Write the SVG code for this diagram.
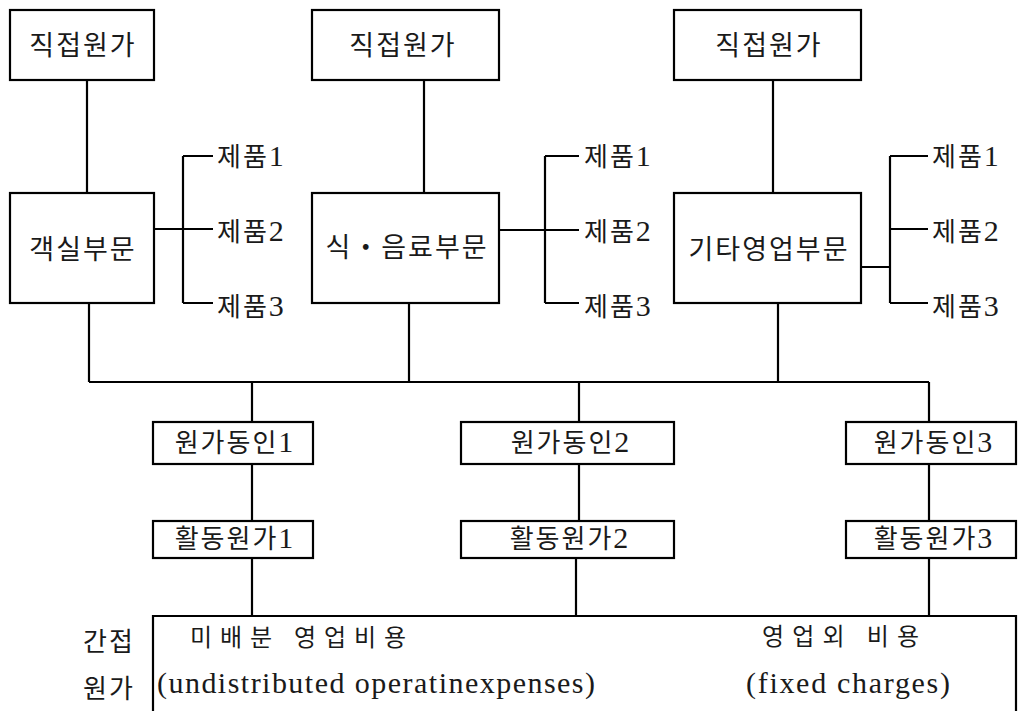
<svg xmlns="http://www.w3.org/2000/svg" width="1018" height="711" viewBox="0 0 1018 711">
<style>
.box{fill:#fff;stroke:#000;stroke-width:2.2}
.ln{fill:none;stroke:#000;stroke-width:2.2}
text{font-family:"Liberation Serif","Noto Sans CJK KR",serif;fill:#1a1a1a}
.lb{font-size:27px;letter-spacing:2px;text-anchor:middle}
.pd{font-size:26px;letter-spacing:2px}
.sm{font-size:26px;letter-spacing:2px;text-anchor:middle}
.d{font-size:30px;letter-spacing:0}
.bt{font-size:24px}
.en{font-size:30px}
</style>
<rect width="1018" height="711" fill="#fff"/>
<g id="connectors">
<path class="ln" d="M87 80V193M424 80V193M773 80V193"/>
<path class="ln" d="M154 229H183M183 156V303M183 156H213M183 229H213M183 303H213"/>
<path class="ln" d="M499 230H545M545 156V303M545 156H579M545 230H579M545 303H579"/>
<path class="ln" d="M861 267H890M890 156V303M890 156H928M890 229H928M890 303H928"/>
<path class="ln" d="M89 303V382M409 303V382M778 303V382M89 382H929"/>
<path class="ln" d="M252 382V422M579 382V422M929 382V422"/>
<path class="ln" d="M252 464V521M579 464V521M929 464V521"/>
<path class="ln" d="M252 558V616M576 558V616M929 558V616"/>
</g>
<g id="direct1"><rect class="box" x="10" y="10" width="144" height="70"/><text class="lb" x="83" y="55">직접원가</text></g>
<g id="direct2"><rect class="box" x="312" y="10" width="187" height="70"/><text class="lb" x="403" y="55">직접원가</text></g>
<g id="direct3"><rect class="box" x="674" y="10" width="187" height="70"/><text class="lb" x="769" y="55">직접원가</text></g>
<g id="dept1"><rect class="box" x="10" y="193" width="144" height="110"/><text class="lb" x="83" y="259">객실부문</text></g>
<g id="dept2"><rect class="box" x="312" y="193" width="187" height="110"/><text class="lb" x="407" y="257">식・음료부문</text></g>
<g id="dept3"><rect class="box" x="674" y="193" width="187" height="110"/><text class="lb" x="769" y="259">기타영업부문</text></g>
<g id="products1"><text class="pd" x="217" y="166">제품<tspan class="d">1</tspan></text><text class="pd" x="217" y="241">제품<tspan class="d">2</tspan></text><text class="pd" x="217" y="316">제품<tspan class="d">3</tspan></text></g>
<g id="products2"><text class="pd" x="584" y="166">제품<tspan class="d">1</tspan></text><text class="pd" x="584" y="241">제품<tspan class="d">2</tspan></text><text class="pd" x="584" y="316">제품<tspan class="d">3</tspan></text></g>
<g id="products3"><text class="pd" x="932" y="166">제품<tspan class="d">1</tspan></text><text class="pd" x="932" y="241">제품<tspan class="d">2</tspan></text><text class="pd" x="932" y="316">제품<tspan class="d">3</tspan></text></g>
<g id="driver1"><rect class="box" x="153" y="422" width="160" height="42"/><text class="sm" x="234" y="452">원가동인<tspan class="d">1</tspan></text></g>
<g id="driver2"><rect class="box" x="461" y="422" width="213" height="42"/><text class="sm" x="570" y="452">원가동인<tspan class="d">2</tspan></text></g>
<g id="driver3"><rect class="box" x="846" y="422" width="170" height="42"/><text class="sm" x="933" y="452">원가동인<tspan class="d">3</tspan></text></g>
<g id="activity1"><rect class="box" x="153" y="521" width="160" height="37"/><text class="sm" x="234" y="548">활동원가<tspan class="d">1</tspan></text></g>
<g id="activity2"><rect class="box" x="461" y="521" width="213" height="37"/><text class="sm" x="569" y="548">활동원가<tspan class="d">2</tspan></text></g>
<g id="activity3"><rect class="box" x="846" y="521" width="170" height="37"/><text class="sm" x="933" y="548">활동원가<tspan class="d">3</tspan></text></g>
<g id="indirect">
<path class="ln" d="M153 712V616H1016V712"/>
<text class="pd" x="83" y="651">간접</text>
<text class="pd" x="83" y="698">원가</text>
<text class="bt" x="190" y="646" textLength="216" lengthAdjust="spacing">미배분 영업비용</text>
<text class="en" x="157" y="693" textLength="438" lengthAdjust="spacing">(undistributed operatinexpenses)</text>
<text class="bt" x="762" y="645" textLength="157" lengthAdjust="spacing">영업외 비용</text>
<text class="en" x="746" y="693" textLength="204" lengthAdjust="spacing">(fixed charges)</text>
</g>
</svg>
